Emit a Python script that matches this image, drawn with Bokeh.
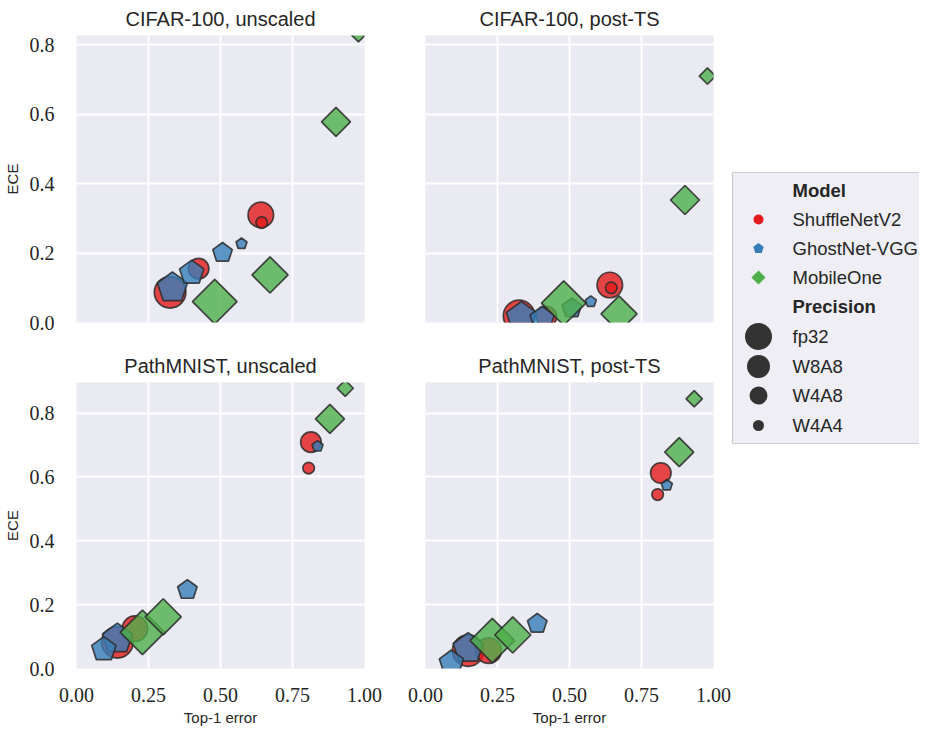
import numpy as np
from bokeh.plotting import figure
from bokeh.layouts import row, column
from bokeh.models import (ColumnDataSource, Range1d, FixedTicker, NumeralTickFormatter,
                          CDSView, GroupFilter)
from bokeh.core.properties import value
from bokeh.embed import file_html
from bokeh.resources import INLINE

# ---------------- data ----------------
models = ["ShuffleNetV2", "GhostNet-VGG", "MobileOne"]
precisions = ["fp32", "W8A8", "W4A8", "W4A4"]
panel_titles = ["CIFAR-100, unscaled", "CIFAR-100, post-TS",
                "PathMNIST, unscaled", "PathMNIST, post-TS"]
x_ticks = [0.0, 0.25, 0.5, 0.75, 1.0]
y_ticks = [0.0, 0.2, 0.4, 0.6, 0.8]

# order: model-major (ShuffleNetV2 x4, GhostNet-VGG x4, MobileOne x4), precisions fp32, W8A8, W4A8, W4A4
cifar_unscaled_err = [0.325, 0.640, 0.424, 0.643, 0.333, 0.400, 0.507, 0.573, 0.480, 0.672, 0.901, 0.979]
cifar_unscaled_ece = [0.087, 0.310, 0.155, 0.288, 0.100, 0.143, 0.201, 0.227, 0.060, 0.137, 0.578, 0.832]
cifar_ts_err = [0.325, 0.640, 0.420, 0.645, 0.333, 0.405, 0.508, 0.574, 0.480, 0.672, 0.901, 0.979]
cifar_ts_ece = [0.019, 0.108, 0.017, 0.100, 0.015, 0.010, 0.041, 0.060, 0.056, 0.025, 0.353, 0.710]
path_unscaled_err = [0.142, 0.203, 0.814, 0.806, 0.142, 0.095, 0.385, 0.837, 0.229, 0.301, 0.880, 0.933]
path_unscaled_ece = [0.082, 0.125, 0.709, 0.628, 0.093, 0.060, 0.246, 0.696, 0.113, 0.162, 0.782, 0.878]
path_ts_err = [0.148, 0.219, 0.817, 0.806, 0.148, 0.090, 0.388, 0.838, 0.232, 0.303, 0.881, 0.933]
path_ts_ece = [0.056, 0.056, 0.6125, 0.545, 0.063, 0.018, 0.140, 0.574, 0.0875, 0.105, 0.678, 0.845]

# ---------------- style ----------------
colors = {"ShuffleNetV2": "#e41a1c", "GhostNet-VGG": "#377eb8", "MobileOne": "#4daf4a"}
plot_size = {"fp32": 31.5, "W8A8": 25.5, "W4A8": 20.5, "W4A4": 11.5}
legend_size = {"fp32": 27, "W8A8": 23, "W4A8": 18, "W4A4": 11}
BG = "#eaeaf2"
TXT = "#262626"
EDGE = "#2b2b2b"
SANS = "Liberation Sans"
SERIF = "Liberation Serif"

FW = 288
TOP_H, BOT_H = 287, 286
TOP_YMAX, BOT_YMAX = 0.827, 0.896
TOP_BORDER = 33

point_model = [m for m in models for _ in precisions]
point_prec = [q for _ in models for q in precisions]


def make_panel(title, err, ece, ymax, fh, left_col, bottom_row):
    p = figure(frame_width=FW, frame_height=fh,
               x_range=Range1d(0, 1), y_range=Range1d(0, ymax),
               output_backend="svg", toolbar_location=None,
               min_border_left=65 if left_col else 40,
               min_border_right=21 if left_col else 18,
               min_border_top=TOP_BORDER,
               min_border_bottom=58 if bottom_row else 25)
    p.background_fill_color = BG
    p.border_fill_color = "white"
    p.outline_line_color = None
    p.title.text = title
    p.title.align = "center"
    p.title.text_font = SANS
    p.title.text_font_size = "20px"
    p.title.text_font_style = "normal"
    p.title.text_color = TXT
    p.title.standoff = 11

    p.xaxis.ticker = FixedTicker(ticks=x_ticks)
    p.yaxis.ticker = FixedTicker(ticks=y_ticks)
    p.xgrid.ticker = FixedTicker(ticks=x_ticks)
    p.ygrid.ticker = FixedTicker(ticks=y_ticks)
    p.xaxis.formatter = NumeralTickFormatter(format="0.00")
    p.yaxis.formatter = NumeralTickFormatter(format="0.0")
    for ax in (p.xaxis, p.yaxis):
        ax.axis_line_color = None
        ax.major_tick_line_color = None
        ax.minor_tick_line_color = None
        ax.major_label_text_font = SERIF
        ax.major_label_text_font_size = "20px"
        ax.major_label_text_color = TXT
        ax.axis_label_text_font = SANS
        ax.axis_label_text_font_size = "15px"
        ax.axis_label_text_font_style = "normal"
        ax.axis_label_text_color = TXT
    p.xaxis.major_label_standoff = 13
    p.xaxis.axis_label_standoff = 4
    p.yaxis.major_label_standoff = 16
    p.yaxis.axis_label_standoff = 6
    p.xaxis.axis_label = "Top-1 error"
    p.yaxis.axis_label = "ECE"
    p.xaxis.visible = bottom_row
    p.yaxis.visible = left_col
    for g in (p.xgrid, p.ygrid):
        g.grid_line_color = "white"
        g.grid_line_width = 1.8

    src = ColumnDataSource(dict(
        x=err, y=ece, model=point_model, prec=point_prec,
        color=[colors[m] for m in point_model],
        size=[plot_size[q] for q in point_prec],
        r=[plot_size[q] / 2 for q in point_prec],
    ))
    common = dict(fill_color="color", fill_alpha=0.8, line_color=EDGE,
                  line_alpha=0.85, line_width=1.7, source=src)
    v_s = CDSView(filter=GroupFilter(column_name="model", group="ShuffleNetV2"))
    v_g = CDSView(filter=GroupFilter(column_name="model", group="GhostNet-VGG"))
    v_m = CDSView(filter=GroupFilter(column_name="model", group="MobileOne"))
    p.scatter(x="x", y="y", size="size", marker="circle", view=v_s, **common)
    p.ngon(x="x", y="y", radius="r", radius_units="screen", n=5, angle=0,
           view=v_g, **common)
    p.scatter(x="x", y="y", size="size", marker="square", angle=np.pi / 4,
              view=v_m, **common)
    return p


f1 = make_panel(panel_titles[0], cifar_unscaled_err, cifar_unscaled_ece, TOP_YMAX, TOP_H, True, False)
f2 = make_panel(panel_titles[1], cifar_ts_err, cifar_ts_ece, TOP_YMAX, TOP_H, False, False)
f3 = make_panel(panel_titles[2], path_unscaled_err, path_unscaled_ece, BOT_YMAX, BOT_H, True, True)
f4 = make_panel(panel_titles[3], path_ts_err, path_ts_ece, BOT_YMAX, BOT_H, False, True)

# ---------------- legend (layout-pixel coordinates) ----------------
LX0, LX1 = 733, 921
LY0, LY1 = 0, 722
leg = figure(width=LX1 - LX0, height=LY1 - LY0,
             x_range=Range1d(LX0, LX1), y_range=Range1d(LY1, LY0),
             output_backend="svg", toolbar_location=None,
             min_border_left=0, min_border_right=0, min_border_top=0, min_border_bottom=0)
leg.axis.visible = False
leg.grid.visible = False
leg.outline_line_color = None
leg.background_fill_color = "white"
leg.border_fill_color = "white"

leg.quad(left=[734], right=[960], top=[172], bottom=[443],
         fill_color="#eeeef4", line_color="#cccccc", line_width=1.2)

mark_x = 760
text_x = 794
row_y = [190, 219, 248, 277, 306, 336, 366, 395, 425]
leg.text(x=[text_x, text_x], y=[row_y[0], row_y[4]], text=["Model", "Precision"],
         text_font=value(SANS), text_font_size=value("18.5px"), text_font_style="bold",
         text_color=TXT, text_baseline="middle", text_align="left")
leg.text(x=[text_x] * 3, y=row_y[1:4], text=models,
         text_font=value(SANS), text_font_size=value("18.5px"),
         text_color=TXT, text_baseline="middle", text_align="left")
leg.text(x=[text_x] * 4, y=row_y[5:9], text=precisions,
         text_font=value(SANS), text_font_size=value("18.5px"),
         text_color=TXT, text_baseline="middle", text_align="left")

leg.scatter(x=[mark_x], y=[row_y[1]], size=10, marker="circle",
            fill_color=colors["ShuffleNetV2"], line_color=None)
leg.ngon(x=[mark_x], y=[row_y[2]], radius=5.5, radius_units="screen", n=5, angle=0,
         fill_color=colors["GhostNet-VGG"], line_color=None)
leg.scatter(x=[mark_x], y=[row_y[3]], size=10, marker="square", angle=np.pi / 4,
            fill_color=colors["MobileOne"], line_color=None)
leg.scatter(x=[mark_x] * 4, y=row_y[5:9], size=[legend_size[q] for q in precisions],
            marker="circle", fill_color="#333333", line_color=None)

layout = row(column(row(f1, f2), row(f3, f4)), leg)

with open("out.html", "w") as fh:
    fh.write(file_html(layout, INLINE))
